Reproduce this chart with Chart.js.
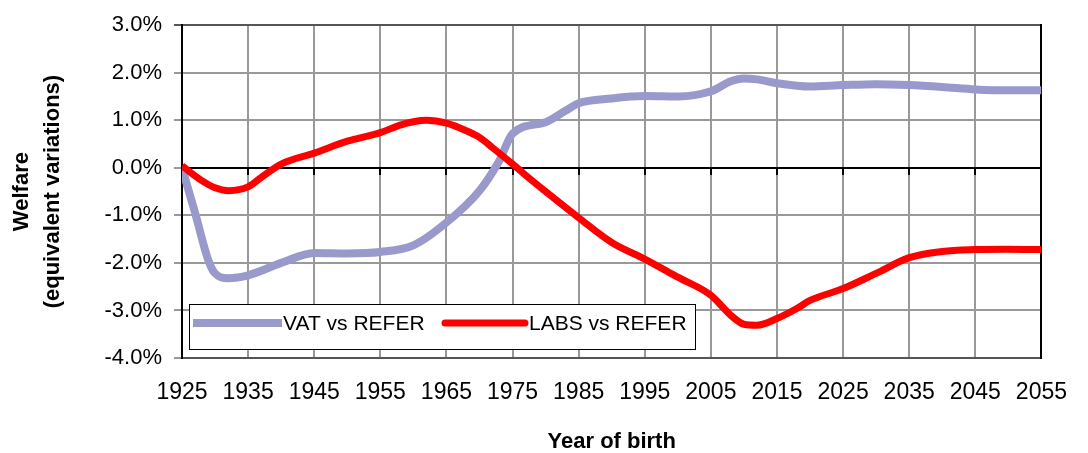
<!DOCTYPE html>
<html>
<head>
<meta charset="utf-8">
<script src="https://cdn.jsdelivr.net/npm/chart.js@4.4.1/dist/chart.umd.min.js"></script>
<style>
  html, body { margin: 0; padding: 0; background: #fff; }
  #wrap { width: 1088px; height: 453px; }
</style>
</head>
<body>
<div id="wrap"><canvas id="myChart" width="1088" height="453"></canvas></div>
<script>
// years of birth and welfare change (%)
const vatYears = [1925, 1927, 1929, 1930, 1932, 1935, 1940, 1945, 1950, 1955, 1960, 1965, 1970, 1973, 1975, 1980, 1983, 1985, 1990, 1995, 2000, 2005, 2008, 2010, 2012, 2015, 2020, 2025, 2030, 2035, 2040, 2045, 2050, 2055];
const vatValues = [0.0, -0.96, -1.95, -2.22, -2.32, -2.26, -2.0, -1.79, -1.8, -1.77, -1.63, -1.15, -0.48, 0.15, 0.72, 0.96, 1.2, 1.36, 1.46, 1.51, 1.5, 1.61, 1.82, 1.88, 1.86, 1.78, 1.71, 1.74, 1.76, 1.74, 1.7, 1.65, 1.63, 1.63];

const labsYears = [1925, 1928, 1930, 1932, 1935, 1937, 1940, 1945, 1950, 1955, 1958, 1960, 1962, 1965, 1968, 1970, 1972, 1975, 1977, 1980, 1985, 1990, 1995, 2000, 2005, 2008, 2010, 2012, 2015, 2018, 2020, 2025, 2030, 2035, 2040, 2045, 2050, 2055];
const labsValues = [0.04, -0.27, -0.42, -0.48, -0.4, -0.2, 0.08, 0.31, 0.56, 0.74, 0.9, 0.97, 1.0, 0.94, 0.78, 0.64, 0.42, 0.08, -0.16, -0.5, -1.05, -1.57, -1.92, -2.3, -2.68, -3.1, -3.29, -3.31, -3.17, -2.96, -2.79, -2.54, -2.22, -1.89, -1.76, -1.72, -1.71, -1.72];

const seriesNames = ["VAT vs REFER", "LABS vs REFER"];
const yTitle = ["Welfare", "(equivalent variations)"];
const xTitle = "Year of birth";

const FONT = "'Liberation Sans', Arial, sans-serif";

const toPoints = (xs, ys) => xs.map((x, i) => ({ x: x, y: ys[i] }));

const decadeTicks = (scale) => {
  scale.ticks = [];
  for (let v = 1925; v <= 2055; v += 10) scale.ticks.push({ value: v });
};

// legend box drawn inside the plot, like the spreadsheet original
const boxLegend = {
  id: "boxLegend",
  afterDatasetsDraw(chart) {
    const ctx = chart.ctx;
    const x0 = 189, y0 = 304, w = 506, h = 45;
    ctx.save();
    ctx.fillStyle = "#fff";
    ctx.fillRect(x0, y0, w, h);
    ctx.strokeStyle = "#000";
    ctx.lineWidth = 1;
    ctx.strokeRect(x0 + 0.5, y0 + 0.5, w, h);
    const cy = y0 + 19;
    const items = [
      { sx: 193, ex: 282, tx: 283, cap: "butt" },
      { sx: 445, ex: 525, tx: 529, cap: "round" },
    ];
    ctx.font = "21px " + FONT;
    ctx.textBaseline = "middle";
    items.forEach((it, i) => {
      const ds = chart.data.datasets[i];
      ctx.strokeStyle = ds.borderColor;
      ctx.lineWidth = ds.borderWidth;
      ctx.lineCap = it.cap;
      ctx.beginPath();
      ctx.moveTo(it.sx, cy);
      ctx.lineTo(it.ex, cy);
      ctx.stroke();
      ctx.fillStyle = "#000";
      ctx.fillText(ds.label, it.tx, cy + 1);
    });
    ctx.restore();
  },
};

const ctx = document.getElementById("myChart").getContext("2d");
const chart = new Chart(ctx, {
  type: "line",
  data: {
    datasets: [
      {
        label: seriesNames[0],
        data: toPoints(vatYears, vatValues),
        borderColor: "#9999CC",
        borderWidth: 8,
        pointRadius: 0,
        cubicInterpolationMode: "monotone",
        order: 2,
      },
      {
        label: seriesNames[1],
        data: toPoints(labsYears, labsValues),
        borderColor: "#FF0000",
        borderWidth: 7,
        pointRadius: 0,
        cubicInterpolationMode: "monotone",
        order: 1,
      },
    ],
  },
  options: {
    responsive: false,
    animation: false,
    layout: { padding: { top: 24, right: 42, bottom: 0, left: 0 } },
    plugins: {
      legend: { display: false },
      tooltip: { enabled: false },
    },
    scales: {
      x: {
        type: "linear",
        min: 1925,
        max: 2055,
        afterBuildTicks: decadeTicks,
        afterFit: (scale) => { scale.height = 95; },
        grid: { color: "#999", lineWidth: 2, drawTicks: false },
        border: { color: "#555", width: 2 },
        ticks: {
          padding: 21,
          color: "#000",
          font: { family: FONT, size: 23 },
          maxRotation: 0,
          autoSkip: false,
          callback: (v) => String(v),
        },
        title: {
          display: true,
          text: xTitle,
          color: "#000",
          font: { family: FONT, size: 22, weight: "bold", lineHeight: 1 },
          padding: { top: 0, bottom: 0 },
        },
      },
      zeroLine: {
        type: "linear",
        axis: "x",
        position: { y: 0 },
        min: 1925,
        max: 2055,
        afterBuildTicks: decadeTicks,
        ticks: { display: false },
        grid: { drawOnChartArea: false, color: "#000", lineWidth: 2, tickLength: 6 },
        border: { color: "#000", width: 2 },
      },
      y: {
        min: -4,
        max: 3,
        afterFit: (scale) => { scale.width = 182; },
        grid: {
          color: (c) => (c.tick && c.tick.value === 3 ? "#555" : "#999"),
          lineWidth: 2,
          tickLength: 8,
        },
        border: { color: "#000", width: 2 },
        ticks: {
          stepSize: 1,
          padding: 12,
          color: "#000",
          font: { family: FONT, size: 22 },
          callback: (v) => v.toFixed(1) + "%",
        },
        title: {
          display: true,
          text: yTitle,
          color: "#000",
          font: { family: FONT, size: 22, weight: "bold", lineHeight: 1.4 },
          padding: { top: 7, bottom: 0 },
        },
      },
      yRight: {
        position: "right",
        min: -4,
        max: 3,
        ticks: { display: false },
        grid: { drawOnChartArea: false, drawTicks: false },
        border: { color: "#000", width: 2 },
        afterFit: (scale) => { scale.width = 0; },
      },
    },
  },
  plugins: [boxLegend],
});
</script>
</body>
</html>
